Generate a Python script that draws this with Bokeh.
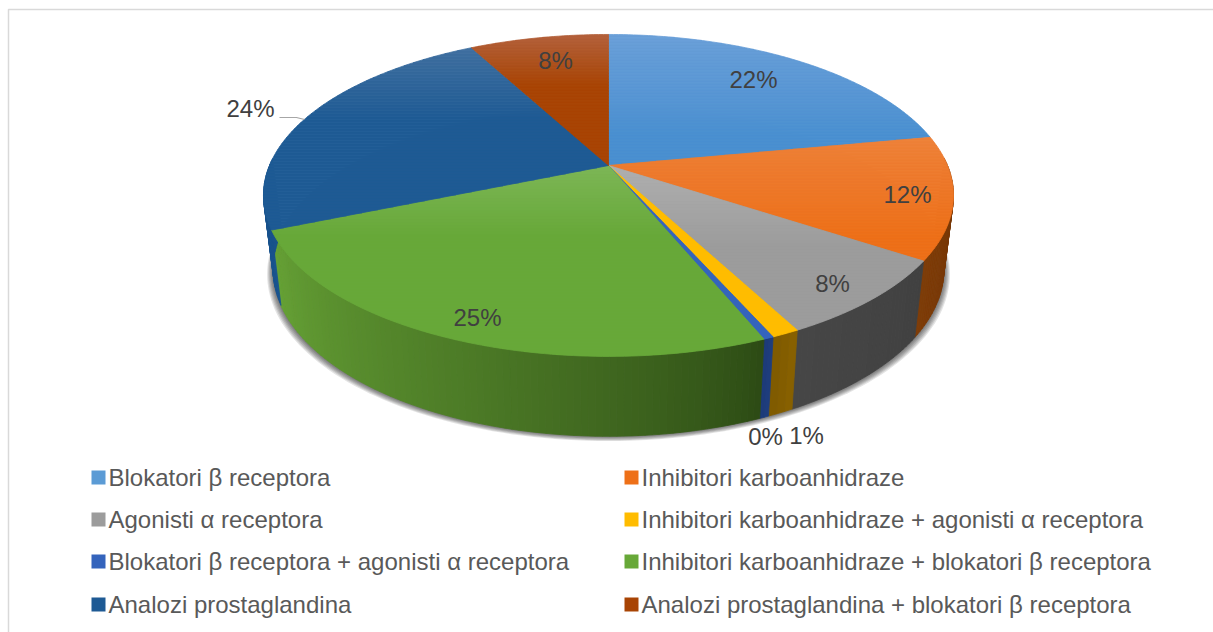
import math
from bokeh.plotting import figure
from bokeh.models import Range1d, ColumnDataSource
from bokeh.core.properties import value
from bokeh.embed import file_html
from bokeh.resources import INLINE

# ---- data ----
categories = ["Blokatori β receptora", "Inhibitori karboanhidraze", "Agonisti α receptora",
              "Inhibitori karboanhidraze + agonisti α receptora",
              "Blokatori β receptora + agonisti α receptora",
              "Inhibitori karboanhidraze + blokatori β receptora",
              "Analozi prostaglandina", "Analozi prostaglandina + blokatori β receptora"]
shares = [22.0, 12.3, 8.0, 1.1, 0.4, 24.9, 23.5, 7.8]
pct_labels = ["22%", "12%", "8%", "1%", "0%", "25%", "24%", "8%"]

# ---- styles ----
top_from = ["#6a9fd8", "#ee8038", "#aeaeae", "#ffc000", "#3c6cc4", "#7cb655", "#3f6f9f", "#b3603a"]
top_to = ["#4a90d0", "#ee7018", "#9c9c9c", "#ffbc00", "#3464bc", "#67a838", "#1e5a94", "#a84404"]
top_span = [100, 100, 80, 60, 60, 70, 70, 50]
wall_from = ["#2e6ca0", "#6b3206", "#404040", "#8a6200", "#1f3f80", "#2c4a14", "#1a5590", "#70300a"]
wall_to = ["#2e6ca0", "#7e3c08", "#464646", "#7e5a00", "#1c3a78", "#66a235", "#164c82", "#70300a"]
label_pos = [(753, 79), (907, 194), (832, 283), (806, 435), (765, 436), (477, 317), (250, 108), (555, 60)]
legend_rows = [477, 519, 561, 604]
legend_cols = [91, 624]
TEXT_FONT = value("Liberation Sans")

CX, AY = 608.0, 165.0
K, R, S = 0.186, 339.0, 155.4
BY, BS, BX = 238.0, 161.0, 0.972


def top_pt(t):
    u, v = math.sin(t), -math.cos(t)
    d = 1 - K * v
    return (CX + R * u / d, AY + S * v / d)


def bot_pt(t):
    u, v = math.sin(t), -math.cos(t)
    d = 1 - K * v
    return (CX + BX * R * u / d, BY + BS * v / d)


def h2r(c):
    return [int(c[i:i + 2], 16) for i in (1, 3, 5)]


def mix(a, b, f):
    f = max(0.0, min(1.0, f))
    ra, rb = h2r(a), h2r(b)
    return "#%02x%02x%02x" % tuple(round(x + (y - x) * f) for x, y in zip(ra, rb))


def clip(poly, y0, y1):
    def half(pts, lim, keep_below):
        out = []
        n = len(pts)
        for i in range(n):
            a, b = pts[i], pts[(i + 1) % n]
            ina = a[1] >= lim if keep_below else a[1] <= lim
            inb = b[1] >= lim if keep_below else b[1] <= lim
            if ina:
                out.append(a)
            if ina != inb:
                f = (lim - a[1]) / (b[1] - a[1])
                out.append((a[0] + (b[0] - a[0]) * f, lim))
        return out
    p1 = half(poly, y0, True)
    return half(p1, y1, False) if p1 else []


p = figure(width=1213, height=632, x_range=Range1d(0, 1213), y_range=Range1d(632, 0),
           output_backend="svg", toolbar_location=None, min_border=0, outline_line_color=None,
           background_fill_color="white", border_fill_color="white")
p.xaxis.visible = False
p.yaxis.visible = False
p.grid.visible = False

# frame: left and top edges only
p.line([8, 8, 1213], [632, 9, 9], line_color="#d9d9d9", line_width=1.5)

# angular boundaries from the values
total = sum(shares)
cum = [0.0]
for s in shares:
    cum.append(cum[-1] + s)
ang = [2 * math.pi * c / total for c in cum]

# soft shadow below the wall
N = 240
ring = [bot_pt(2 * math.pi * i / N) for i in range(N)]
for off in range(1, 7):
    grow = 1 + off * 0.003
    p.patch([CX + (x - CX) * grow for x, y in ring], [y + off * 0.8 for x, y in ring],
            fill_color="#000000", fill_alpha=0.11, line_color=None)

# side walls, shaded along the arc
wx, wy, wc = [], [], []
for i in range(len(shares)):
    a0, a1 = ang[i], ang[i + 1]
    n = max(2, int((a1 - a0) / math.radians(1.0)))
    for j in range(n):
        t0 = a0 + (a1 - a0) * j / n
        t1 = a0 + (a1 - a0) * (j + 1) / n
        if -math.cos((t0 + t1) / 2) < -0.05:
            continue
        q0, q1, q2, q3 = top_pt(t0), top_pt(t1), bot_pt(t1), bot_pt(t0)
        wx.append([q0[0], q1[0], q2[0], q3[0]])
        wy.append([q0[1], q1[1], q2[1], q3[1]])
        wc.append(mix(wall_from[i], wall_to[i], ((j + 0.5) / n) ** 0.8))
p.patches(wx, wy, fill_color=wc, line_color=wc, line_width=0.8)

# top faces with vertical shading
fx, fy, fc = [], [], []
for i in range(len(shares)):
    a0, a1 = ang[i], ang[i + 1]
    n = max(3, int((a1 - a0) / math.radians(1.0)))
    poly = [(CX, AY)] + [top_pt(a0 + (a1 - a0) * j / n) for j in range(n + 1)]
    ys = [q[1] for q in poly]
    ymin, ymax = min(ys), max(ys)
    y = ymin
    while y < ymax:
        piece = clip(poly, y, y + 3)
        if len(piece) >= 3:
            fx.append([q[0] for q in piece])
            fy.append([q[1] for q in piece])
            fc.append(mix(top_from[i], top_to[i], (y - ymin) / top_span[i]))
        y += 3
p.patches(fx, fy, fill_color=fc, line_color=fc, line_width=0.8)

# leader line of the 24% label
p.line([279, 296, 304], [117, 117, 119], line_color="#a6a6a6", line_width=1.2)

# percent labels
p.text(x=[q[0] for q in label_pos], y=[q[1] for q in label_pos], text=pct_labels,
       text_font=TEXT_FONT, text_font_size="24px", text_color="#404040",
       text_align="center", text_baseline="middle")

# legend
sx, sy, names, colors = [], [], [], []
for k, name in enumerate(categories):
    sx.append(legend_cols[k % 2])
    sy.append(legend_rows[k // 2])
    names.append(name)
    colors.append(top_to[k] if k != 0 else "#5b9bd5")
src = ColumnDataSource(dict(left=sx, right=[x + 14 for x in sx], top=[y - 7 for y in sy],
                            bottom=[y + 7 for y in sy], color=colors,
                            tx=[x + 17 for x in sx], ty=sy, name=names))
p.quad(left="left", right="right", top="top", bottom="bottom", fill_color="color",
       line_color=None, source=src)
p.text(x="tx", y="ty", text="name", text_font=TEXT_FONT, text_font_size="24px",
       text_color="#595959", text_align="left", text_baseline="middle", source=src)

open("out.html", "w").write(file_html(p, INLINE))
